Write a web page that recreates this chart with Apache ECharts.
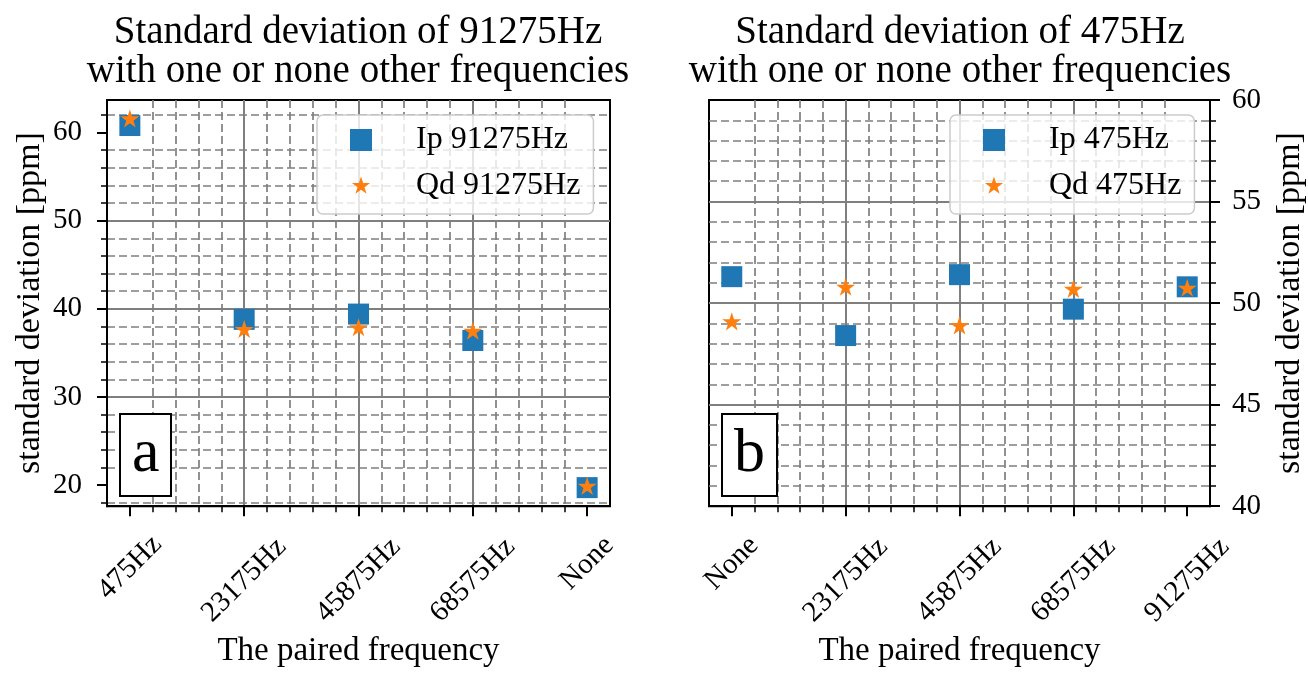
<!DOCTYPE html>
<html>
<head>
<meta charset="utf-8">
<script src="https://cdn.jsdelivr.net/npm/echarts@6/dist/echarts.min.js"></script>
<style>
  html, body { margin: 0; padding: 0; background: #fff; }
  #chart { width: 1308px; height: 673px; }
</style>
</head>
<body>
<div id="chart"></div>
<script>
// left panel: 91275Hz paired with another frequency
var leftCats = ['475Hz', '23175Hz', '45875Hz', '68575Hz', 'None'];
var leftIp = [60.8, 38.8, 39.4, 36.4, 19.7];
var leftQd = [61.6, 37.7, 37.9, 37.5, 19.9];
var leftTicks = [20, 30, 40, 50, 60];

// right panel: 475Hz paired with another frequency
var rightCats = ['None', '23175Hz', '45875Hz', '68575Hz', '91275Hz'];
var rightIp = [51.3, 48.4, 51.4, 49.7, 50.8];
var rightQd = [49.1, 50.8, 48.9, 50.7, 50.75];
var rightTicks = [40, 45, 50, 55, 60];

var catTicks = [0, 1, 2, 3, 4];

var FONT = '"Liberation Serif", "DejaVu Serif", serif';
var BLUE = '#1f77b4';
var ORANGE = '#ff7f0e';
var GRID_GRAY = '#7f7f7f';
var STAR_PATH = 'M0,-1L0.2245,-0.309L0.951,-0.309L0.363,0.118L0.588,0.809L0,0.382L-0.588,0.809L-0.363,0.118L-0.951,-0.309L-0.2245,-0.309Z';
var STAR = 'path://' + STAR_PATH;
// same star with empty margin so it looks smaller in the legend
var STAR_SMALL = 'path://M-1.15,-1.15L-1.15,-1.15M1.15,1.15L1.15,1.15' + STAR_PATH;

function pts(vals) {
  return vals.map(function (v, i) { return [i, v]; });
}

// shift the short rotated labels up a bit, like matplotlib does
function catLabel(cats) {
  return function (v) {
    var name = cats[Math.round(v)];
    if (name === undefined || Math.abs(v - Math.round(v)) > 1e-6) return '';
    if (name.length <= 4) return '{s4|' + name + '}';
    if (name.length <= 5) return '{s5|' + name + '}';
    return '{s7|' + name + '}';
  };
}

var majorGrid = { show: true, showMinLine: false, showMaxLine: false, lineStyle: { color: GRID_GRAY, width: 2 } };
var minorGrid = { show: true, lineStyle: { color: GRID_GRAY, width: 1.7, type: [8, 4] } };

function xAxisFor(gridIndex, cats) {
  return {
    type: 'value', gridIndex: gridIndex, min: -0.2, max: 4.2,
    name: 'The paired frequency', nameLocation: 'middle', nameGap: 128,
    nameTextStyle: { fontFamily: FONT, fontSize: 33, color: '#000' },
    axisLine: { show: true, onZero: false, lineStyle: { color: '#000', width: 2 } },
    axisTick: { show: true, length: 10, customValues: catTicks, lineStyle: { color: '#000', width: 2 } },
    minorTick: { show: true, splitNumber: 5, length: 6, lineStyle: { color: '#000', width: 1.5 } },
    axisLabel: {
      customValues: catTicks, rotate: 45, align: 'center', verticalAlign: 'middle', margin: 74,
      fontFamily: FONT, fontSize: 29, color: '#000',
      formatter: catLabel(cats),
      rich: {
        s4: { fontFamily: FONT, fontSize: 29, padding: [0, 0, 24, 24] },
        s5: { fontFamily: FONT, fontSize: 29, padding: [0, 0, 18, 18] },
        s7: { fontFamily: FONT, fontSize: 29 }
      }
    },
    splitLine: majorGrid,
    minorSplitLine: minorGrid
  };
}

function legendFor(names, left) {
  return {
    data: [{ name: names[0] }, { name: names[1], icon: STAR_SMALL }],
    left: left, top: 115, orient: 'vertical',
    itemWidth: 22, itemHeight: 22, itemGap: 14,
    padding: [9, 13, 12, 33],
    backgroundColor: 'rgba(255,255,255,0.8)', borderColor: '#cccccc', borderWidth: 1.5, borderRadius: 6,
    formatter: function (n) { return '{t|' + n + '}'; },
    textStyle: {
      fontFamily: FONT, fontSize: 32, color: '#000', lineHeight: 30,
      rich: { t: { fontFamily: FONT, fontSize: 32, lineHeight: 30, padding: [0, 0, 0, 39] } }
    }
  };
}

function yAxisFor(gridIndex, side, min, max, ticks, extra) {
  var ax = {
    type: 'value', gridIndex: gridIndex, min: min, max: max, position: side,
    name: 'standard deviation [ppm]', nameLocation: 'middle', nameRotate: 90,
    nameGap: side === 'left' ? 60 : 63,
    nameTextStyle: { fontFamily: FONT, fontSize: 34, color: '#000' },
    axisLine: { show: true, onZero: false, lineStyle: { color: '#000', width: 2 } },
    axisTick: { show: true, length: 10, customValues: ticks, lineStyle: { color: '#000', width: 2 } },
    minorTick: { show: true, splitNumber: 5, length: 6, lineStyle: { color: '#000', width: 1.5 } },
    axisLabel: { customValues: ticks, margin: side === 'left' ? 25 : 22, fontFamily: FONT, fontSize: 29, color: '#000' },
    splitLine: majorGrid,
    minorSplitLine: minorGrid
  };
  return Object.assign(ax, extra || {});
}

var chart = echarts.init(document.getElementById('chart'));
chart.setOption({
  backgroundColor: '#fff',
  animation: false,
  title: [
    {
      text: 'Standard deviation of 91275Hz\nwith one or none other frequencies',
      left: 358, top: 13, textAlign: 'center', padding: 0,
      textStyle: { fontFamily: FONT, fontSize: 39, lineHeight: 39, fontWeight: 'normal', color: '#000' }
    },
    {
      text: 'Standard deviation of 475Hz\nwith one or none other frequencies',
      left: 960, top: 13, textAlign: 'center', padding: 0,
      textStyle: { fontFamily: FONT, fontSize: 39, lineHeight: 39, fontWeight: 'normal', color: '#000' }
    },
    {
      text: 'a', left: 120, top: 415, padding: [10, 12],
      backgroundColor: '#fff', borderColor: '#000', borderWidth: 2,
      textStyle: { fontFamily: FONT, fontSize: 62, lineHeight: 60, fontWeight: 'normal', color: '#000' }
    },
    {
      text: 'b', left: 722, top: 415, padding: [10, 12],
      backgroundColor: '#fff', borderColor: '#000', borderWidth: 2,
      textStyle: { fontFamily: FONT, fontSize: 62, lineHeight: 60, fontWeight: 'normal', color: '#000' }
    }
  ],
  legend: [
    legendFor(['Ip 91275Hz', 'Qd 91275Hz'], 317),
    legendFor(['Ip 475Hz', 'Qd 475Hz'], 950)
  ],
  grid: [
    { left: 107, top: 100, width: 503, height: 413, show: true, borderColor: '#000', borderWidth: 2, backgroundColor: 'transparent' },
    { left: 709, top: 100, width: 502, height: 413, show: true, borderColor: '#000', borderWidth: 2, backgroundColor: 'transparent' }
  ],
  xAxis: [xAxisFor(0, leftCats), xAxisFor(1, rightCats)],
  yAxis: [
    yAxisFor(0, 'left', 17.6, 63.7, leftTicks),
    yAxisFor(1, 'right', 40, 60, rightTicks, { interval: 5 })
  ],
  series: [
    { name: 'Ip 91275Hz', type: 'scatter', xAxisIndex: 0, yAxisIndex: 0, symbol: 'rect', symbolSize: 21, itemStyle: { color: BLUE, opacity: 1 }, data: pts(leftIp) },
    { name: 'Qd 91275Hz', type: 'scatter', xAxisIndex: 0, yAxisIndex: 0, symbol: STAR, symbolKeepAspect: true, symbolSize: 19, itemStyle: { color: ORANGE, opacity: 1 }, data: pts(leftQd) },
    { name: 'Ip 475Hz', type: 'scatter', xAxisIndex: 1, yAxisIndex: 1, symbol: 'rect', symbolSize: 21, itemStyle: { color: BLUE, opacity: 1 }, data: pts(rightIp) },
    { name: 'Qd 475Hz', type: 'scatter', xAxisIndex: 1, yAxisIndex: 1, symbol: STAR, symbolKeepAspect: true, symbolSize: 19, itemStyle: { color: ORANGE, opacity: 1 }, data: pts(rightQd) }
  ]
});
</script>
</body>
</html>
